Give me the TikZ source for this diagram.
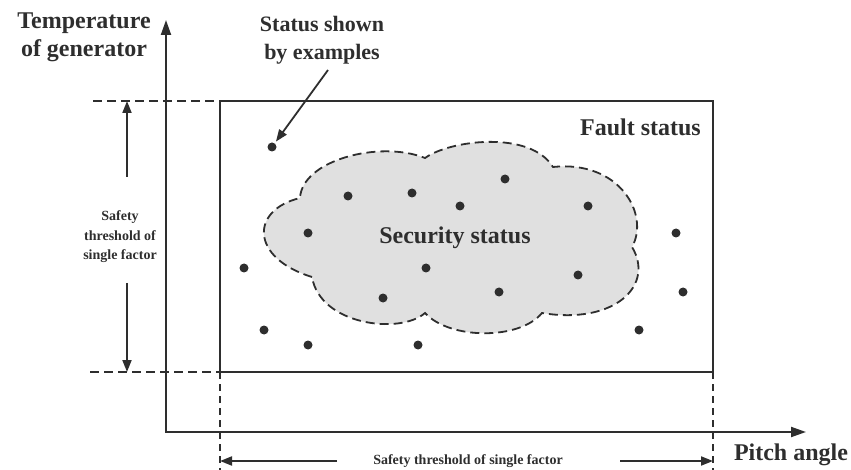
\documentclass[tikz,border=0pt]{standalone}
\usepackage{fontspec}
\setmainfont{Liberation Serif}
\usetikzlibrary{arrows.meta}
\definecolor{inkgray}{HTML}{2E2E2E}
\definecolor{cloudfill}{HTML}{E0E0E0}
\tikzset{
  axis/.style={line width=2pt, draw=inkgray, line join=miter},
  guide/.style={line width=1.8pt, draw=inkgray, dash pattern=on 9pt off 5pt},
  vguide/.style={line width=1.4pt, draw=inkgray, dash pattern=on 7pt off 5pt},
  dimarrow/.style={line width=1.8pt, draw=inkgray, -{Triangle[length=12pt,width=9pt]}},
  sample/.style={circle, fill=inkgray, inner sep=0pt, minimum size=9pt},
  biglabel/.style={font=\bfseries\fontsize{24}{28}\selectfont, text=inkgray, align=center, inner sep=0pt},
  notelabel/.style={font=\bfseries\fontsize{22}{28}\selectfont, text=inkgray, align=center, inner sep=0pt},
  smalllabel/.style={font=\bfseries\fontsize{14}{19.5}\selectfont, text=inkgray, align=center, inner sep=0pt},
}
\begin{document}
\begin{tikzpicture}[x=1pt,y=-1pt]
\useasboundingbox (0,0) rectangle (851,470);
% axes
\coordinate (ytop) at (166,20);
\coordinate (origin) at (166,432);
\coordinate (xend) at (806,432);
\draw[axis, {Triangle[length=15pt,width=10pt]}-{Triangle[length=15pt,width=10pt]}] (ytop) -- (origin) -- (xend);
\node[biglabel] (ylabel) at (84,37) {Temperature\\of generator};
\node[biglabel] (xlabel) at (791,455) {Pitch angle};
% fault region
\coordinate (ftl) at (220,101);
\coordinate (fbr) at (713,372);
\draw[axis] (ftl) rectangle (fbr);
\node[biglabel, anchor=east] (fault) at (701,127) {Fault status};
% security region
\draw[guide, fill=cloudfill]
  (312,277) .. controls (250,258) and (250,210) .. (300,198)
  .. controls (302,160) and (380,140) .. (425,158)
  .. controls (450,140) and (530,130) .. (553,167)
  .. controls (620,160) and (650,215) .. (632,247)
  .. controls (655,285) and (615,325) .. (542,313)
  .. controls (520,340) and (450,340) .. (425,313)
  .. controls (400,335) and (320,325) .. cycle;
\node[biglabel] (security) at (455,238) {Security status};
% samples
\foreach \px/\py [count=\i] in {272/147, 348/196, 412/193, 505/179, 460/206, 588/206,
  308/233, 676/233, 244/268, 426/268, 578/275, 383/298, 499/292, 683/292,
  264/330, 639/330, 308/345, 418/345}
  \node[sample] (s\i) at (\px,\py) {};
\node[notelabel] (note) at (322,40) {Status shown\\by examples};
\coordinate (notetail) at (328,70);
\draw[dimarrow, shorten >=2pt] (notetail) -- (s1);
% thresholds
\coordinate (gtl) at (93,101);
\coordinate (gbl) at (90,372);
\coordinate (gbr) at (220,470);
\coordinate (gbrr) at (713,470);
\draw[guide] (gtl) -- (ftl);
\draw[guide] (gbl) -- (ftl |- fbr);
\draw[vguide] (ftl |- fbr) -- (gbr);
\draw[vguide] (fbr) -- (gbrr);
\node[smalllabel] (vthr) at (120,237) {Safety\\threshold of\\single factor};
\coordinate (vup) at (127,177);
\coordinate (vdown) at (127,283);
\draw[dimarrow] (vup) -- (vup |- ftl);
\draw[dimarrow] (vdown) -- (vdown |- fbr);
\node[smalllabel] (hthr) at (468,461) {Safety threshold of single factor};
\coordinate (hleft) at (337,461);
\coordinate (hright) at (620,461);
\draw[dimarrow] (hleft) -- (ftl |- hleft);
\draw[dimarrow] (hright) -- (fbr |- hright);
\end{tikzpicture}
\end{document}
